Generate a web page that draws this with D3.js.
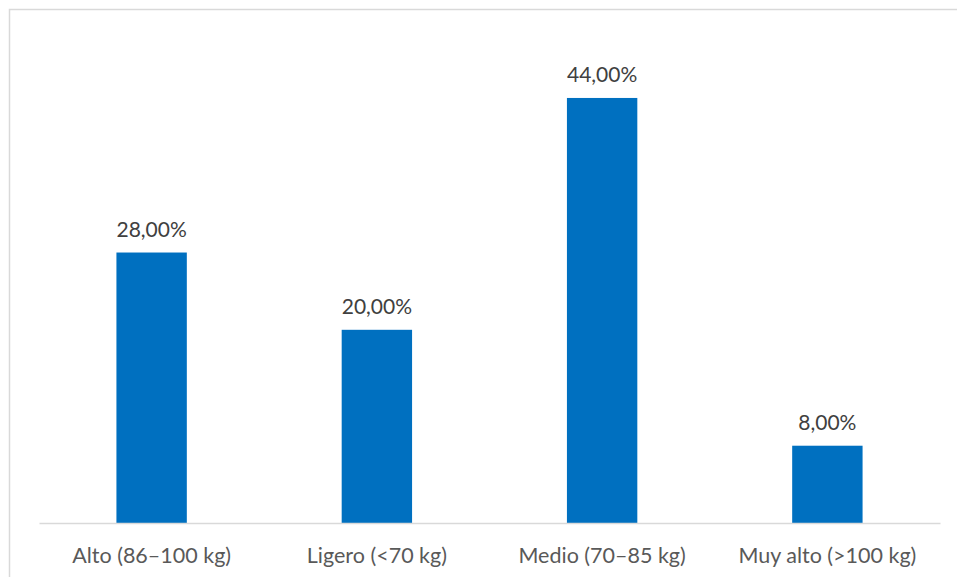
<!DOCTYPE html>
<html>
<head>
<meta charset="utf-8">
<script src="https://cdn.jsdelivr.net/npm/d3@7"></script>
<style>
  html, body { margin: 0; padding: 0; background: #fff; }
  svg { display: block; }
</style>
</head>
<body>
<svg id="chart" width="957" height="577"></svg>
<script>
// Weight categories and share of people in each
const categories = ["Alto (86–100 kg)", "Ligero (<70 kg)", "Medio (70–85 kg)", "Muy alto (>100 kg)"];
const values = [28, 20, 44, 8];

const W = 957, H = 577;
const margin = { left: 39, right: 17, top: 40, bottom: 54 };
const svg = d3.select("#chart");

// Chart frame
svg.append("rect")
  .attr("x", 9.5).attr("y", 9.5)
  .attr("width", W + 20).attr("height", H + 20)
  .attr("fill", "#fff")
  .attr("stroke", "#d9d9d9").attr("stroke-width", 1.5);

const x = d3.scaleBand()
  .domain(categories)
  .range([margin.left, W - margin.right])
  .paddingInner(0.6875).paddingOuter(0.34375);

const y = d3.scaleLinear()
  .domain([0, 50])
  .range([H - margin.bottom, margin.top]);

const fmt = v => d3.format(".2f")(v).replace(".", ",") + "%";

// Bars
svg.append("g").selectAll("rect")
  .data(values)
  .join("rect")
  .attr("x", (d, i) => x(categories[i]))
  .attr("y", d => y(d))
  .attr("width", x.bandwidth())
  .attr("height", d => y(0) - y(d))
  .attr("fill", "#0070c0");

// Value labels
svg.append("g").selectAll("text")
  .data(values)
  .join("text")
  .attr("x", (d, i) => x(categories[i]) + x.bandwidth() / 2)
  .attr("y", d => y(d) - 16)
  .attr("text-anchor", "middle")
  .attr("font-family", "Lato, 'Open Sans', sans-serif")
  .attr("font-size", 21)
  .attr("fill", "#404040")
  .text(d => fmt(d));

// Category axis
const xAxis = svg.append("g")
  .attr("transform", `translate(0,${y(0)})`)
  .call(d3.axisBottom(x).tickSize(0).tickPadding(25).tickSizeOuter(0));
xAxis.select(".domain").attr("stroke", "#d9d9d9").attr("stroke-width", 1.5);
xAxis.selectAll("text")
  .attr("font-family", "Lato, 'Open Sans', sans-serif")
  .attr("font-size", 21.5)
  .attr("fill", "#595959");
</script>
</body>
</html>
